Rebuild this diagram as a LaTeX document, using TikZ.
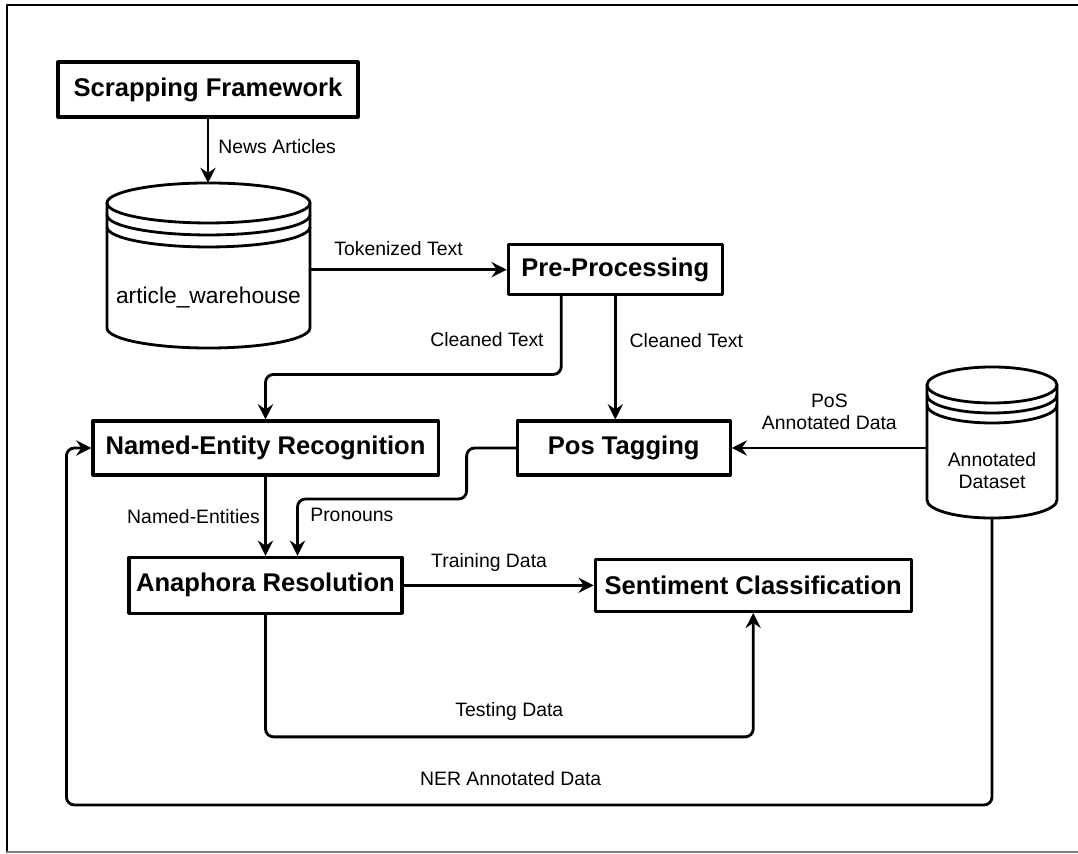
\documentclass[tikz,border=0pt]{standalone}
\usepackage{fontspec}
\setmainfont{Liberation Sans}
\usetikzlibrary{arrows.meta,positioning,calc}
\tikzset{
    every picture/.style={line cap=round,line join=round},
    procbox/.style={draw=black,line width=2.2pt,minimum height=1.35cm,
      inner sep=2pt,font=\fontsize{18.2}{21}\selectfont\bfseries,align=center},
    storebox/.style={inner sep=0pt,outer sep=0pt,align=center},
    storeline/.style={draw=black,line width=2pt},
    flowarrow/.style={-{Stealth[length=3.8mm,width=3.8mm,inset=1.3mm]},
      draw=black,line width=2pt},
    flowlabel/.style={font=\fontsize{13.8}{15.6}\selectfont,align=center,inner sep=3pt}
}
% data store outline round a store node: name, half width, rim radius, rim gap
\newcommand{\drawstore}[4]{%
  \draw[storeline] ($(#1.north west)+(0,{2*#4+#3})$) -- ($(#1.south west)+(0,#3)$)
    arc[start angle=180,end angle=360,x radius=#2,y radius=#3]
    -- ($(#1.north east)+(0,{2*#4+#3})$);
  \draw[storeline] ($(#1.north)+(0,{2*#4+#3})$) ellipse[x radius=#2,y radius=#3];
  \foreach \g in {1,2}
    \draw[storeline] ($(#1.north west)+(0,{(2-\g)*#4+#3})$)
      arc[start angle=180,end angle=360,x radius=#2,y radius=#3];
  \coordinate (#1-top) at ($(#1.north)+(0,{2*#4+2*#3})$);
}

\begin{document}
\begin{tikzpicture}[x=0.025cm,y=0.025cm]
  \useasboundingbox (0,0) rectangle (1078,854);
  % frame
  \draw[line width=1.6pt] (1078,849) -- (7,849) -- (7,2);
  \draw[line width=1.1pt,gray] (7,2) -- (1078,2);

  % boxes
  \node[procbox,minimum width=7.5cm,minimum height=1.375cm] (scrap) at (208,764.5) {Scrapping Framework};
  \node[procbox,minimum width=8.625cm] (ner) at (265.5,406) {Named-Entity Recognition};
  \node[procbox,minimum width=5.325cm,right=1.9cm of ner] (pos) {Pos Tagging};
  \node[procbox,minimum width=5.35cm,minimum height=1.25cm,above=3.08cm of pos,xshift=-0.21cm] (pre) {Pre-Processing};
  \node[procbox,minimum width=6.825cm,minimum height=1.4cm,below=1.98cm of ner] (ana) {Anaphora Resolution};
  \node[procbox,minimum width=7.9cm,minimum height=1.3cm,right=4.75cm of ana] (senti) {Sentiment Classification};

  % stores
  \node[storebox,minimum width=5.075cm,minimum height=2.525cm,font=\fontsize{16.2}{19}\selectfont] (wh) at (208.5,556.5) {article\_warehouse};
  \node[storebox,minimum width=3.25cm,minimum height=2.375cm,font=\fontsize{13.8}{15.6}\selectfont] (annot) at (992,383.5) {Annotated\\Dataset};
  \drawstore{wh}{101.5}{20}{12}
  \drawstore{annot}{65}{18}{10}

  % flows
  \draw[flowarrow] (scrap.south) -- node[flowlabel,right=0.12cm,pos=0.43]{News Articles} (scrap.south |- wh-top);
  \draw[flowarrow] (wh.east |- pre.west) -- node[flowlabel,above=0.2cm,pos=0.45]{Tokenized Text} (pre.west);
  \draw[flowarrow,rounded corners=0.2cm] ($(pre.south)+(-54,0)$) |- node[flowlabel,left=0.3cm,pos=0.278]{Cleaned Text} ($(ner.north)+(0,45)$) -- (ner.north);
  \draw[flowarrow] (pre.south) -- node[flowlabel,right=0.22cm,pos=0.36]{Cleaned Text} (pre.south |- pos.north);
  \draw[flowarrow] (annot.west |- pos.east) -- node[flowlabel,above=0.32cm,midway]{PoS\\Annotated Data} (pos.east);
  \draw[flowarrow,rounded corners=0.2cm] (pos.west) -| ($(pos.west)+(-49,-51)$) -| node[flowlabel,right=0.18cm,pos=0.64]{Pronouns} ($(ana.north)+(32,0)$);
  \draw[flowarrow] (ner.south) -- node[flowlabel,left]{Named-Entities} (ner.south |- ana.north);
  \draw[flowarrow] (ana.east) -- node[flowlabel,above=0.2cm,pos=0.45]{Training Data} (ana.east -| senti.west);
  \draw[flowarrow,rounded corners=0.2cm] (ana.south) |- node[flowlabel,above=0.27cm,pos=0.75]{Testing Data} ($(senti.south)+(0,-124)$) -- (senti.south);
  \draw[flowarrow,rounded corners=0.2cm] (annot.south) |- node[flowlabel,above=0.345cm,pos=0.76]{NER Annotated Data} ($(ner.west)+(-25,-357)$) |- (ner.west);
\end{tikzpicture}
\end{document}
